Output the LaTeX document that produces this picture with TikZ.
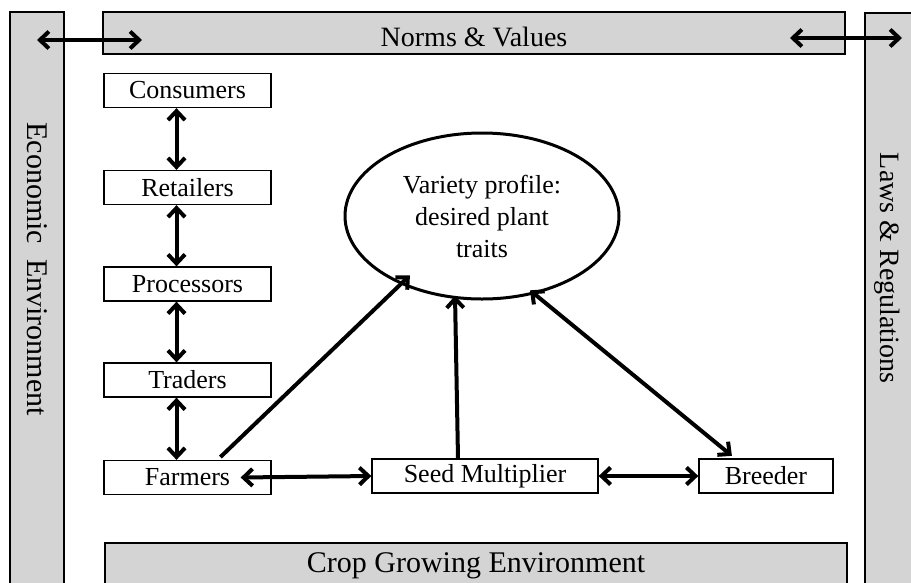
\documentclass[tikz,border=0pt]{standalone}
\usepackage{fontspec}
\setmainfont{Liberation Serif}
\usetikzlibrary{arrows.meta,shapes.geometric}
\definecolor{barfill}{RGB}{212,212,212}
\tikzset{
  bar/.style={draw, line width=1.6pt, fill=barfill, inner sep=0pt},
  barlabel/.style={font=\fontsize{28}{32}\selectfont},
  actor/.style={draw, line width=1.3pt, minimum height=34, inner sep=0pt, font=\fontsize{26}{30}\selectfont},
  link/.style={line width=4pt, {Straight Barb[length=9pt,width=17pt]}-{Straight Barb[length=9pt,width=17pt]}},
  push/.style={line width=4pt, -{Straight Barb[length=9pt,width=17pt]}}
}

\begin{document}
\begin{tikzpicture}[x=1pt,y=-1pt]
\useasboundingbox (0,0) rectangle (911,582);
\clip (0,0) rectangle (911,582);

% surrounding environment
\node[bar, minimum width=54, minimum height=600] (econ) at (37,312) {};
\node[bar, minimum width=54, minimum height=600] (laws) at (892,313) {};
\node[bar, minimum width=742, minimum height=42] (norms) at (474,33) {};
\node[bar, minimum width=742, minimum height=60] (crop) at (476,573) {};
\node[barlabel, font=\fontsize{30}{34}\selectfont, rotate=-90] (econ-text) at (37,269) {Economic~~Environment};
\node[barlabel, rotate=-90] (laws-text) at (887,268) {Laws \& Regulations};
\node[barlabel] (norms-text) at (474,37) {Norms \& Values};
\node[barlabel, font=\fontsize{30}{34}\selectfont] (crop-text) at (476,566) {Crop Growing Environment};

\coordinate (econ-arm) at (37,40);
\coordinate (norms-left) at (142,40);
\coordinate (norms-right) at (790,38);
\coordinate (laws-arm) at (902,38);
\draw[link] (econ-arm) -- (norms-left);
\draw[link] (norms-right) -- (laws-arm);

% value chain
\node[actor, minimum width=167] (cons) at (187.5,90.5) {Consumers};
\node[actor, minimum width=167] (ret) at (187.5,187.5) {Retailers};
\node[actor, minimum width=167] (proc) at (187.5,284) {Processors};
\node[actor, minimum width=167] (trad) at (187.5,380) {Traders};
\node[actor, minimum width=167] (farm) at (187.5,477.5) {Farmers};
\node[actor, minimum width=226] (seed) at (485,476) {Seed Multiplier};
\node[actor, minimum width=134] (breed) at (766,476) {Breeder};

\node[draw, ellipse, line width=3pt, minimum width=274, minimum height=166,
  align=center, font=\fontsize{26}{32}\selectfont] (profile) at (482,216)
  {Variety profile:\\desired plant\\traits};

\foreach \a/\b in {cons/ret, proc/trad, ret/proc, trad/farm}
  \draw[link] ([xshift=-11]\a.south) -- ([xshift=-11]\b.north);

\draw[link] ([xshift=-31]farm.east) -- (seed.west);
\draw[link] (seed.east) -- (breed.west);

\draw[push, shorten <=4pt, shorten >=-13pt] ([xshift=30]farm.north) -- (profile.220);
\draw[push, shorten >=-3pt] ([xshift=-27]seed.north) -- (profile.252);
\draw[link, shorten <=4pt, shorten >=-6pt] ([xshift=-31]breed.north) -- (profile.304);
\end{tikzpicture}
\end{document}
